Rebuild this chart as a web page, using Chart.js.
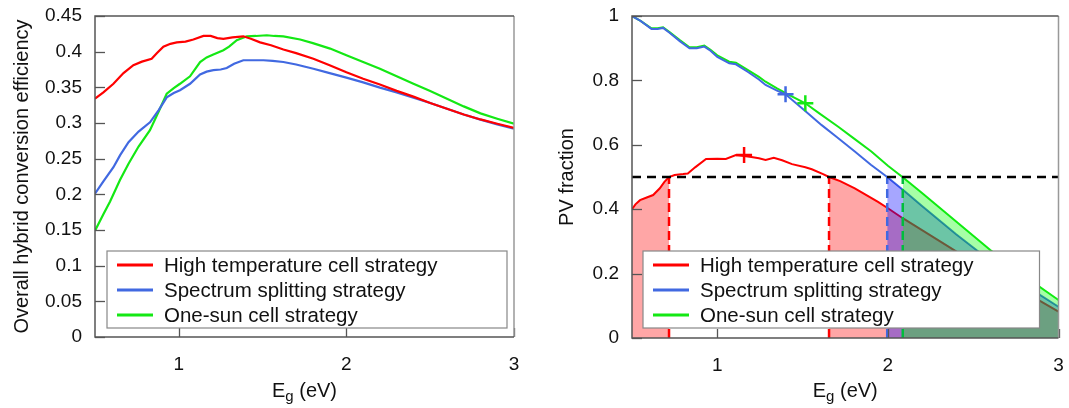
<!DOCTYPE html>
<html lang="en">
<head>
    <meta charset="UTF-8">
    <title>Hybrid conversion efficiency and PV fraction</title>
    <script src="https://cdn.jsdelivr.net/npm/chart.js"></script>
    <style>
        body { margin: 0; background: #fff; width: 1069px; height: 408px; overflow: hidden; }
        .panel { position: absolute; top: 0; }
        #left { left: 0; }
        #right { left: 540px; }
    </style>
</head>
<body>
    <div class="panel" id="left"><canvas id="effChart" width="530" height="408"></canvas></div>
    <div class="panel" id="right"><canvas id="pvChart" width="529" height="408"></canvas></div>

    <script>
        // series labels + colours
        const seriesNames = ['High temperature cell strategy', 'Spectrum splitting strategy', 'One-sun cell strategy'];
        const lineColors = ['rgb(255,0,0)', 'rgb(65,105,225)', 'rgb(20,232,20)'];
        const fillColors = ['rgba(255,0,0,0.35)', 'rgba(0,0,255,0.35)', 'rgba(0,255,0,0.35)'];

        // tick labels
        const xTicks = [1, 2, 3];
        const effTicks = [0, 0.05, 0.1, 0.15, 0.2, 0.25, 0.3, 0.35, 0.4, 0.45];
        const pvTicks = [0, 0.2, 0.4, 0.6, 0.8, 1];

        // left panel: overall hybrid conversion efficiency vs Eg (eV)
        const effHighTemp = [[0.5,0.334],[0.55,0.343],[0.61,0.355],[0.67,0.37],[0.729,0.381],[0.78,0.386],[0.838,0.390],[0.87,0.398],[0.908,0.407],[0.95,0.411],[0.988,0.413],[1.04,0.414],[1.087,0.417],[1.147,0.422],[1.19,0.422],[1.23,0.419],[1.266,0.418],[1.32,0.42],[1.385,0.4215],[1.43,0.418],[1.485,0.413],[1.55,0.409],[1.624,0.403],[1.7,0.398],[1.803,0.390],[1.9,0.381],[2.0,0.371],[2.1,0.362],[2.2,0.354],[2.3,0.345],[2.4,0.337],[2.5,0.328],[2.6,0.320],[2.7,0.312],[2.8,0.305],[2.9,0.299],[3.0,0.293]];
        const effSplit = [[0.5,0.201],[0.55,0.218],[0.61,0.238],[0.65,0.255],[0.70,0.273],[0.76,0.288],[0.828,0.301],[0.88,0.318],[0.928,0.336],[0.97,0.342],[1.007,0.346],[1.067,0.355],[1.127,0.368],[1.166,0.372],[1.206,0.374],[1.25,0.375],[1.286,0.377],[1.33,0.383],[1.385,0.388],[1.45,0.388],[1.505,0.388],[1.56,0.387],[1.624,0.3855],[1.7,0.382],[1.803,0.376],[1.9,0.370],[2.0,0.3636],[2.1,0.357],[2.2,0.3496],[2.3,0.343],[2.4,0.3356],[2.5,0.328],[2.6,0.320],[2.7,0.312],[2.8,0.3047],[2.9,0.298],[3.0,0.292]];
        const effOneSun = [[0.5,0.149],[0.55,0.172],[0.59,0.19],[0.649,0.22],[0.70,0.243],[0.76,0.267],[0.828,0.29],[0.88,0.316],[0.928,0.341],[0.97,0.349],[1.007,0.355],[1.067,0.3655],[1.127,0.3855],[1.166,0.392],[1.206,0.396],[1.266,0.402],[1.30,0.407],[1.346,0.416],[1.406,0.4215],[1.46,0.422],[1.525,0.423],[1.57,0.422],[1.624,0.4215],[1.724,0.417],[1.8,0.412],[1.903,0.4043],[2.0,0.395],[2.1,0.3855],[2.2,0.376],[2.3,0.3654],[2.4,0.355],[2.5,0.3448],[2.6,0.334],[2.7,0.3233],[2.8,0.3135],[2.9,0.306],[3.0,0.299]];

        // right panel: PV fraction vs Eg (eV)
        const pvHighTemp = [[0.5,0.40],[0.52,0.415],[0.547,0.428],[0.59,0.437],[0.624,0.444],[0.663,0.465],[0.69,0.485],[0.717,0.5],[0.75,0.506],[0.8,0.509],[0.827,0.511],[0.87,0.53],[0.934,0.556],[1.0,0.557],[1.05,0.556],[1.109,0.568],[1.157,0.565],[1.2,0.562],[1.244,0.558],[1.283,0.553],[1.331,0.56],[1.38,0.552],[1.438,0.54],[1.516,0.530],[1.554,0.524],[1.62,0.509],[1.655,0.5],[1.72,0.487],[1.806,0.465],[1.942,0.423],[2.0,0.403],[2.087,0.372],[2.2,0.335],[2.4,0.269],[2.6,0.205],[2.8,0.143],[3.0,0.082]];
        const pvSplit = [[0.5,1.0],[0.55,0.985],[0.614,0.96],[0.65,0.96],[0.682,0.963],[0.72,0.948],[0.78,0.922],[0.837,0.9],[0.88,0.9],[0.924,0.905],[0.96,0.892],[1.0,0.873],[1.07,0.853],[1.109,0.85],[1.18,0.826],[1.244,0.803],[1.283,0.786],[1.35,0.768],[1.40,0.757],[1.5,0.712],[1.612,0.661],[1.7,0.624],[1.806,0.579],[1.9,0.538],[1.996,0.5],[2.1,0.455],[2.2,0.41],[2.4,0.322],[2.6,0.24],[2.8,0.165],[3.0,0.097]];
        const pvOneSun = [[0.5,1.0],[0.55,0.985],[0.614,0.962],[0.65,0.962],[0.682,0.965],[0.72,0.95],[0.78,0.925],[0.837,0.903],[0.88,0.903],[0.924,0.908],[0.96,0.895],[1.0,0.878],[1.07,0.858],[1.109,0.855],[1.18,0.832],[1.244,0.811],[1.283,0.796],[1.35,0.775],[1.42,0.755],[1.516,0.729],[1.6,0.697],[1.709,0.656],[1.8,0.62],[1.903,0.579],[2.0,0.535],[2.087,0.499],[2.2,0.45],[2.4,0.362],[2.6,0.273],[2.8,0.192],[3.0,0.118]];

        // optimum markers (+) and the 0.5 threshold crossings
        const pvOptimum = [[1.157,0.568],[1.40,0.757],[1.516,0.729]];
        const pvThreshold = 0.5;
        const redCrossings = [0.717, 1.655];
        const blueCrossing = 1.996;
        const greenCrossing = 2.087;

        const FONT = '"Liberation Sans", Arial, sans-serif';
        const toXY = arr => arr.map(p => ({x: p[0], y: p[1]}));
        const between = (arr, a, b) => toXY(arr.filter(p => p[0] >= a - 1e-9 && p[0] <= b + 1e-9));

        // higher order = drawn earlier; lines under fills, red fill under blue under green
        function lineSet(label, data, color, width) {
            return { label, data: toXY(data), borderColor: color, borderWidth: width,
                     pointRadius: 0, fill: false, tension: 0, order: 10, isSeries: true };
        }

        function fillSet(data, color, order) {
            return { data, borderWidth: 0, borderColor: 'transparent', backgroundColor: color,
                     pointRadius: 0, fill: 'origin', tension: 0, order };
        }

        function dashSet(data, color, width, dash) {
            return { data, borderColor: color, borderWidth: width, borderDash: dash,
                     pointRadius: 0, fill: false, tension: 0, order: 0 };
        }

        // frame, inward ticks, legend box and the E_g title
        const decorPlugin = {
            id: 'decor',
            afterDatasetsDraw(chart, args, opts) {
                const ctx = chart.ctx;
                const a = chart.chartArea;
                const xs = chart.scales.x, ys = chart.scales.y;
                ctx.save();
                // inward tick marks
                ctx.strokeStyle = '#555';
                ctx.lineWidth = 1.3;
                ys.ticks.forEach(t => {
                    const py = Math.round(ys.getPixelForValue(t.value)) + 0.5;
                    ctx.beginPath(); ctx.moveTo(a.left, py); ctx.lineTo(a.left + 10, py); ctx.stroke();
                });
                xs.ticks.forEach(t => {
                    const px = Math.round(xs.getPixelForValue(t.value)) + 0.5;
                    ctx.beginPath(); ctx.moveTo(px, a.bottom); ctx.lineTo(px, a.bottom - 9); ctx.stroke();
                });
                // frame
                ctx.lineWidth = 1.5;
                ctx.strokeStyle = '#999';
                ctx.beginPath(); ctx.moveTo(a.right, a.top); ctx.lineTo(a.right, a.bottom); ctx.stroke();
                ctx.strokeStyle = '#555';
                ctx.beginPath();
                ctx.moveTo(a.right, a.top); ctx.lineTo(a.left, a.top);
                ctx.lineTo(a.left, a.bottom); ctx.lineTo(a.right, a.bottom);
                ctx.stroke();

                // legend
                const bx = a.left + opts.legendLeft, bx2 = a.right - opts.legendRight;
                const by2 = a.bottom - opts.legendBottom, by = by2 - 77;
                ctx.fillStyle = '#fff';
                ctx.fillRect(bx, by, bx2 - bx, by2 - by);
                ctx.strokeStyle = '#888';
                ctx.lineWidth = 1.2;
                ctx.strokeRect(bx, by, bx2 - bx, by2 - by);
                const series = chart.data.datasets.filter(d => d.isSeries);
                ctx.font = '20.5px ' + FONT;
                ctx.textBaseline = 'middle';
                ctx.textAlign = 'left';
                series.forEach((d, i) => {
                    const cy = by + 14 + i * 25;
                    ctx.strokeStyle = d.borderColor;
                    ctx.lineWidth = 3;
                    ctx.beginPath(); ctx.moveTo(bx + 10, cy); ctx.lineTo(bx + 46, cy); ctx.stroke();
                    ctx.fillStyle = '#111';
                    ctx.fillText(d.label, bx + 57, cy + 1);
                });

                // x title: E with subscript g
                const big = '20px ' + FONT, small = '15px ' + FONT;
                ctx.font = big; const wE = ctx.measureText('E').width; const wRest = ctx.measureText(' (eV)').width;
                ctx.font = small; const wg = ctx.measureText('g').width;
                let tx = (a.left + a.right) / 2 - (wE + wg + wRest) / 2;
                const base = 397;
                ctx.textBaseline = 'alphabetic';
                ctx.fillStyle = '#111';
                ctx.font = big; ctx.fillText('E', tx, base); tx += wE;
                ctx.font = small; ctx.fillText('g', tx, base + 4); tx += wg;
                ctx.font = big; ctx.fillText(' (eV)', tx, base);
                ctx.restore();
            }
        };

        function baseOptions(yTicks, yMax, yTitle, axisWidth, titlePad, xAxisHeight, rightPad, fmt, legendPos) {
            return {
                responsive: false,
                animation: false,
                layout: { padding: { top: 16, right: rightPad, left: 0, bottom: 0 } },
                plugins: {
                    legend: { display: false },
                    tooltip: { enabled: false },
                    decor: legendPos
                },
                scales: {
                    x: {
                        type: 'linear', min: 0.5, max: 3,
                        // tickLength gives the label gap; the grid itself is hidden
                        grid: { display: false, drawTicks: true, tickLength: 16 },
                        border: { display: false },
                        afterBuildTicks: s => { s.ticks = xTicks.map(v => ({ value: v })); },
                        afterFit: s => { s.height = xAxisHeight; },
                        ticks: { color: '#111', padding: 0, font: { family: FONT, size: 19 }, maxRotation: 0,
                                 callback: v => String(v) }
                    },
                    y: {
                        type: 'linear', min: 0, max: yMax,
                        grid: { display: false, drawTicks: true, tickLength: 13 },
                        border: { display: false },
                        afterBuildTicks: s => { s.ticks = yTicks.map(v => ({ value: v })); },
                        afterFit: s => { s.width = axisWidth; },
                        ticks: { color: '#111', padding: 0, font: { family: FONT, size: 19 }, callback: fmt },
                        title: { display: true, text: yTitle, color: '#111', padding: { top: titlePad, bottom: 0 },
                                 font: { family: FONT, size: 20 } }
                    }
                }
            };
        }

        new Chart(document.getElementById('effChart'), {
            type: 'line',
            data: {
                datasets: [
                    lineSet(seriesNames[0], effHighTemp, lineColors[0], 2.2),
                    lineSet(seriesNames[1], effSplit, lineColors[1], 2.2),
                    lineSet(seriesNames[2], effOneSun, lineColors[2], 2.2)
                ]
            },
            options: baseOptions(effTicks, 0.45, 'Overall hybrid conversion efficiency', 95, 10, 71, 16,
                v => String(parseFloat(v.toFixed(2))), { legendLeft: 12, legendRight: 7, legendBottom: 9 }),
            plugins: [decorPlugin]
        });

        new Chart(document.getElementById('pvChart'), {
            type: 'line',
            data: {
                datasets: [
                    lineSet(seriesNames[0], pvHighTemp, lineColors[0], 2),
                    lineSet(seriesNames[1], pvSplit, lineColors[1], 2),
                    lineSet(seriesNames[2], pvOneSun, lineColors[2], 2),
                    fillSet(between(pvHighTemp, 0.5, redCrossings[0]), fillColors[0], 4),
                    fillSet(between(pvHighTemp, redCrossings[1], 3), fillColors[0], 4),
                    fillSet(between(pvSplit, blueCrossing, 3), fillColors[1], 3),
                    fillSet(between(pvOneSun, greenCrossing, 3), fillColors[2], 2),
                    dashSet([{x: 0.5, y: pvThreshold}, {x: 3, y: pvThreshold}], '#000', 2.5, [9, 6]),
                    dashSet([{x: redCrossings[0], y: 0}, {x: redCrossings[0], y: pvThreshold}], lineColors[0], 2.5, [9, 5]),
                    dashSet([{x: redCrossings[1], y: 0}, {x: redCrossings[1], y: pvThreshold}], lineColors[0], 2.5, [9, 5]),
                    dashSet([{x: blueCrossing, y: 0}, {x: blueCrossing, y: pvThreshold}], lineColors[1], 2.5, [9, 5]),
                    dashSet([{x: greenCrossing, y: 0}, {x: greenCrossing, y: pvThreshold}], 'rgb(0,190,60)', 2.5, [9, 5]),
                    ...pvOptimum.map((p, i) => ({
                        data: [{x: p[0], y: p[1]}], showLine: false, pointStyle: 'cross', pointRadius: 8,
                        pointBorderWidth: 2.5, pointBorderColor: lineColors[i], borderColor: lineColors[i], order: 0
                    }))
                ]
            },
            options: baseOptions(pvTicks, 1, 'PV fraction', 92, 15, 70, 7,
                v => String(parseFloat(v.toFixed(1))), { legendLeft: 11, legendRight: 19, legendBottom: 10 }),
            plugins: [decorPlugin]
        });
    </script>
</body>
</html>
